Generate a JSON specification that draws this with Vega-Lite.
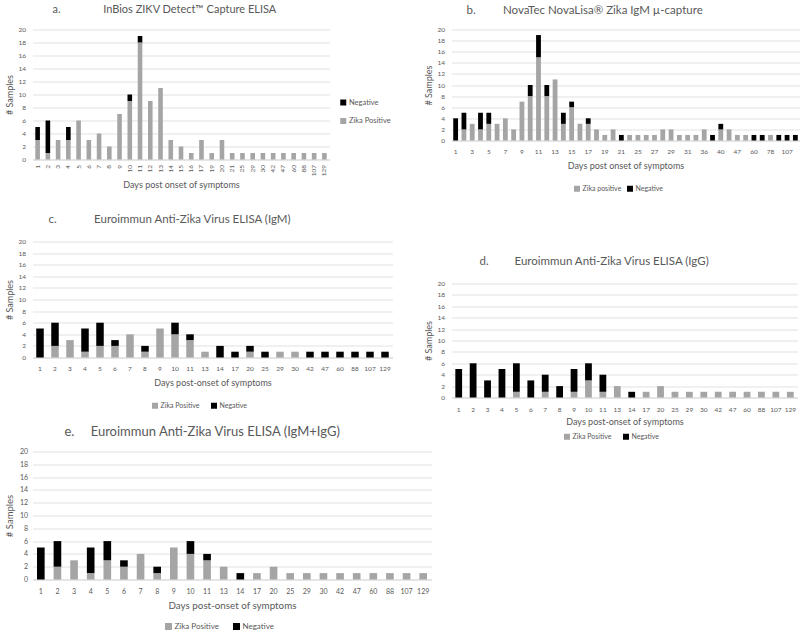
{
  "$schema": "https://vega.github.io/schema/vega-lite/v6.json",
  "padding": {"left": 3.5, "top": 3.5, "right": 0, "bottom": 0},
  "background": "white",
  "config": {
    "font": "Lato",
    "view": {"stroke": null},
    "axis": {"labelColor": "#595959", "titleColor": "#595959", "labelFontSize": 6.5, "titleFontSize": 9, "titleFontWeight": "normal", "ticks": false, "tickSize": 0, "gridColor": "#d9d9d9", "gridWidth": 0.8, "domainColor": "#d9d9d9", "labelFont": "Lato", "titleFont": "Lato"},
    "axisX": {"grid": false, "domain": true, "labelAngle": 0, "labelPadding": 8, "titlePadding": 6},
    "axisY": {"domain": false, "labelPadding": 7, "titlePadding": 3},
    "legend": {"title": null, "orient": "none", "padding": 0, "offset": 0, "labelColor": "#595959", "labelFontSize": 7, "labelFont": "Lato", "symbolType": "square", "symbolSize": 36, "symbolStrokeWidth": 0, "labelOffset": 2, "columnPadding": 11, "direction": "horizontal"},
    "title": {"font": "Lato", "fontSize": 11.5, "fontWeight": "normal", "color": "#595959", "anchor": "start", "frame": "group", "baseline": "middle"}
  },
  "datasets": {
    "a": [
      {"day": 1, "status": "Zika Positive", "n": 3}, {"day": 1, "status": "Negative", "n": 2},
      {"day": 2, "status": "Zika Positive", "n": 1}, {"day": 2, "status": "Negative", "n": 5},
      {"day": 3, "status": "Zika Positive", "n": 3},
      {"day": 4, "status": "Zika Positive", "n": 3}, {"day": 4, "status": "Negative", "n": 2},
      {"day": 5, "status": "Zika Positive", "n": 6},
      {"day": 6, "status": "Zika Positive", "n": 3},
      {"day": 7, "status": "Zika Positive", "n": 4},
      {"day": 8, "status": "Zika Positive", "n": 2},
      {"day": 9, "status": "Zika Positive", "n": 7},
      {"day": 10, "status": "Zika Positive", "n": 9}, {"day": 10, "status": "Negative", "n": 1},
      {"day": 11, "status": "Zika Positive", "n": 18}, {"day": 11, "status": "Negative", "n": 1},
      {"day": 12, "status": "Zika Positive", "n": 9},
      {"day": 13, "status": "Zika Positive", "n": 11},
      {"day": 14, "status": "Zika Positive", "n": 3},
      {"day": 15, "status": "Zika Positive", "n": 2},
      {"day": 16, "status": "Zika Positive", "n": 1},
      {"day": 17, "status": "Zika Positive", "n": 3},
      {"day": 19, "status": "Zika Positive", "n": 1},
      {"day": 20, "status": "Zika Positive", "n": 3},
      {"day": 21, "status": "Zika Positive", "n": 1},
      {"day": 25, "status": "Zika Positive", "n": 1},
      {"day": 29, "status": "Zika Positive", "n": 1},
      {"day": 30, "status": "Zika Positive", "n": 1},
      {"day": 42, "status": "Zika Positive", "n": 1},
      {"day": 47, "status": "Zika Positive", "n": 1},
      {"day": 60, "status": "Zika Positive", "n": 1},
      {"day": 88, "status": "Zika Positive", "n": 1},
      {"day": 107, "status": "Zika Positive", "n": 1},
      {"day": 129, "status": "Zika Positive", "n": 1}
    ],
    "b": [
      {"day": 1, "status": "Negative", "n": 4},
      {"day": 2, "status": "Zika positive", "n": 2}, {"day": 2, "status": "Negative", "n": 3},
      {"day": 3, "status": "Zika positive", "n": 3},
      {"day": 4, "status": "Zika positive", "n": 2}, {"day": 4, "status": "Negative", "n": 3},
      {"day": 5, "status": "Zika positive", "n": 3}, {"day": 5, "status": "Negative", "n": 2},
      {"day": 6, "status": "Zika positive", "n": 3},
      {"day": 7, "status": "Zika positive", "n": 4},
      {"day": 8, "status": "Zika positive", "n": 2},
      {"day": 9, "status": "Zika positive", "n": 7},
      {"day": 10, "status": "Zika positive", "n": 8}, {"day": 10, "status": "Negative", "n": 2},
      {"day": 11, "status": "Zika positive", "n": 15}, {"day": 11, "status": "Negative", "n": 4},
      {"day": 12, "status": "Zika positive", "n": 8}, {"day": 12, "status": "Negative", "n": 2},
      {"day": 13, "status": "Zika positive", "n": 11},
      {"day": 14, "status": "Zika positive", "n": 3}, {"day": 14, "status": "Negative", "n": 2},
      {"day": 15, "status": "Zika positive", "n": 6}, {"day": 15, "status": "Negative", "n": 1},
      {"day": 16, "status": "Zika positive", "n": 3},
      {"day": 17, "status": "Zika positive", "n": 3}, {"day": 17, "status": "Negative", "n": 1},
      {"day": 18, "status": "Zika positive", "n": 2},
      {"day": 19, "status": "Zika positive", "n": 1},
      {"day": 20, "status": "Zika positive", "n": 2},
      {"day": 21, "status": "Negative", "n": 1},
      {"day": 22, "status": "Zika positive", "n": 1},
      {"day": 25, "status": "Zika positive", "n": 1},
      {"day": 26, "status": "Zika positive", "n": 1},
      {"day": 27, "status": "Zika positive", "n": 1},
      {"day": 28, "status": "Zika positive", "n": 2},
      {"day": 29, "status": "Zika positive", "n": 2},
      {"day": 30, "status": "Zika positive", "n": 1},
      {"day": 31, "status": "Zika positive", "n": 1},
      {"day": 33, "status": "Zika positive", "n": 1},
      {"day": 36, "status": "Zika positive", "n": 2},
      {"day": 38, "status": "Negative", "n": 1},
      {"day": 40, "status": "Zika positive", "n": 2}, {"day": 40, "status": "Negative", "n": 1},
      {"day": 42, "status": "Zika positive", "n": 2},
      {"day": 47, "status": "Zika positive", "n": 1},
      {"day": 48, "status": "Zika positive", "n": 1},
      {"day": 60, "status": "Negative", "n": 1},
      {"day": 67, "status": "Negative", "n": 1},
      {"day": 78, "status": "Zika positive", "n": 1},
      {"day": 88, "status": "Negative", "n": 1},
      {"day": 107, "status": "Negative", "n": 1},
      {"day": 129, "status": "Negative", "n": 1}
    ],
    "c": [
      {"day": 1, "status": "Negative", "n": 5},
      {"day": 2, "status": "Zika Positive", "n": 2}, {"day": 2, "status": "Negative", "n": 4},
      {"day": 3, "status": "Zika Positive", "n": 3},
      {"day": 4, "status": "Zika Positive", "n": 1}, {"day": 4, "status": "Negative", "n": 4},
      {"day": 5, "status": "Zika Positive", "n": 2}, {"day": 5, "status": "Negative", "n": 4},
      {"day": 6, "status": "Zika Positive", "n": 2}, {"day": 6, "status": "Negative", "n": 1},
      {"day": 7, "status": "Zika Positive", "n": 4},
      {"day": 8, "status": "Zika Positive", "n": 1}, {"day": 8, "status": "Negative", "n": 1},
      {"day": 9, "status": "Zika Positive", "n": 5},
      {"day": 10, "status": "Zika Positive", "n": 4}, {"day": 10, "status": "Negative", "n": 2},
      {"day": 11, "status": "Zika Positive", "n": 3}, {"day": 11, "status": "Negative", "n": 1},
      {"day": 13, "status": "Zika Positive", "n": 1},
      {"day": 14, "status": "Negative", "n": 2},
      {"day": 17, "status": "Negative", "n": 1},
      {"day": 20, "status": "Zika Positive", "n": 1}, {"day": 20, "status": "Negative", "n": 1},
      {"day": 25, "status": "Negative", "n": 1},
      {"day": 29, "status": "Zika Positive", "n": 1},
      {"day": 30, "status": "Zika Positive", "n": 1},
      {"day": 42, "status": "Negative", "n": 1},
      {"day": 47, "status": "Negative", "n": 1},
      {"day": 60, "status": "Negative", "n": 1},
      {"day": 88, "status": "Negative", "n": 1},
      {"day": 107, "status": "Negative", "n": 1},
      {"day": 129, "status": "Negative", "n": 1}
    ],
    "d": [
      {"day": 1, "status": "Negative", "n": 5},
      {"day": 2, "status": "Negative", "n": 6},
      {"day": 3, "status": "Negative", "n": 3},
      {"day": 4, "status": "Negative", "n": 5},
      {"day": 5, "status": "Zika Positive", "n": 1}, {"day": 5, "status": "Negative", "n": 5},
      {"day": 6, "status": "Negative", "n": 3},
      {"day": 7, "status": "Zika Positive", "n": 1}, {"day": 7, "status": "Negative", "n": 3},
      {"day": 8, "status": "Negative", "n": 2},
      {"day": 9, "status": "Zika Positive", "n": 1}, {"day": 9, "status": "Negative", "n": 4},
      {"day": 10, "status": "Zika Positive", "n": 3}, {"day": 10, "status": "Negative", "n": 3},
      {"day": 11, "status": "Zika Positive", "n": 1}, {"day": 11, "status": "Negative", "n": 3},
      {"day": 13, "status": "Zika Positive", "n": 2},
      {"day": 14, "status": "Negative", "n": 1},
      {"day": 17, "status": "Zika Positive", "n": 1},
      {"day": 20, "status": "Zika Positive", "n": 2},
      {"day": 25, "status": "Zika Positive", "n": 1},
      {"day": 29, "status": "Zika Positive", "n": 1},
      {"day": 30, "status": "Zika Positive", "n": 1},
      {"day": 42, "status": "Zika Positive", "n": 1},
      {"day": 47, "status": "Zika Positive", "n": 1},
      {"day": 60, "status": "Zika Positive", "n": 1},
      {"day": 88, "status": "Zika Positive", "n": 1},
      {"day": 107, "status": "Zika Positive", "n": 1},
      {"day": 129, "status": "Zika Positive", "n": 1}
    ],
    "e": [
      {"day": 1, "status": "Negative", "n": 5},
      {"day": 2, "status": "Zika Positive", "n": 2}, {"day": 2, "status": "Negative", "n": 4},
      {"day": 3, "status": "Zika Positive", "n": 3},
      {"day": 4, "status": "Zika Positive", "n": 1}, {"day": 4, "status": "Negative", "n": 4},
      {"day": 5, "status": "Zika Positive", "n": 3}, {"day": 5, "status": "Negative", "n": 3},
      {"day": 6, "status": "Zika Positive", "n": 2}, {"day": 6, "status": "Negative", "n": 1},
      {"day": 7, "status": "Zika Positive", "n": 4},
      {"day": 8, "status": "Zika Positive", "n": 1}, {"day": 8, "status": "Negative", "n": 1},
      {"day": 9, "status": "Zika Positive", "n": 5},
      {"day": 10, "status": "Zika Positive", "n": 4}, {"day": 10, "status": "Negative", "n": 2},
      {"day": 11, "status": "Zika Positive", "n": 3}, {"day": 11, "status": "Negative", "n": 1},
      {"day": 13, "status": "Zika Positive", "n": 2},
      {"day": 14, "status": "Negative", "n": 1},
      {"day": 17, "status": "Zika Positive", "n": 1},
      {"day": 20, "status": "Zika Positive", "n": 2},
      {"day": 25, "status": "Zika Positive", "n": 1},
      {"day": 29, "status": "Zika Positive", "n": 1},
      {"day": 30, "status": "Zika Positive", "n": 1},
      {"day": 42, "status": "Zika Positive", "n": 1},
      {"day": 47, "status": "Zika Positive", "n": 1},
      {"day": 60, "status": "Zika Positive", "n": 1},
      {"day": 88, "status": "Zika Positive", "n": 1},
      {"day": 107, "status": "Zika Positive", "n": 1},
      {"day": 129, "status": "Zika Positive", "n": 1}
    ]
  },
  "resolve": {"scale": {"color": "independent", "x": "independent", "y": "independent"}, "legend": {"color": "independent"}},
  "spacing": -7,
  "hconcat": [
    {
      "resolve": {"scale": {"color": "independent", "x": "independent", "y": "independent"}, "legend": {"color": "independent"}},
      "spacing": 16,
      "vconcat": [
        {
          "bounds": "flush",
          "spacing": 82,
          "resolve": {"scale": {"color": "independent", "x": "independent", "y": "independent"}, "legend": {"color": "independent"}},
          "vconcat": [
            {
              "width": 297, "height": 130,
              "data": {"name": "a"},
              "title": {"text": "a.\u2003\u2003\u2003\u2003\u2003\u2009InBios ZIKV Detect™ Capture ELISA", "dx": 20, "offset": 11.5, "fontSize": 11},
              "mark": {"type": "bar"},
              "encoding": {
                "x": {"field": "day", "type": "ordinal", "scale": {"paddingInner": 0.55, "paddingOuter": 0.275}, "axis": {"title": "Days post onset of symptoms", "labelAngle": -90, "labelPadding": 5, "titlePadding": 5}},
                "y": {"field": "n", "type": "quantitative", "stack": "zero", "scale": {"domain": [0, 20], "nice": false}, "axis": {"title": "# Samples", "values": [0, 2, 4, 6, 8, 10, 12, 14, 16, 18, 20]}},
                "color": {"field": "status", "type": "nominal", "scale": {"domain": ["Negative", "Zika Positive"], "range": ["#000000", "#a5a5a5"]}, "legend": {"direction": "vertical", "legendX": 307, "legendY": 69.25, "rowPadding": 9.5, "labelFontSize": 7.5}},
                "order": {"field": "status", "sort": "descending"}
              }
            },
            {
              "width": 360, "height": 116,
              "data": {"name": "c"},
              "title": {"text": "c.\u2003\u2003\u2003\u2003\u2009\u2009Euroimmun Anti-Zika Virus ELISA (IgM)", "dx": 16, "offset": 12.75},
              "mark": {"type": "bar"},
              "encoding": {
                "x": {"field": "day", "type": "ordinal", "scale": {"paddingInner": 0.5, "paddingOuter": 0.25}, "axis": {"title": "Days post-onset of symptoms", "labelPadding": 8, "titlePadding": 6}},
                "y": {"field": "n", "type": "quantitative", "stack": "zero", "scale": {"domain": [0, 20], "nice": false}, "axis": {"title": "# Samples", "values": [0, 2, 4, 6, 8, 10, 12, 14, 16, 18, 20]}},
                "color": {"field": "status", "type": "nominal", "scale": {"domain": ["Zika Positive", "Negative"], "range": ["#a5a5a5", "#000000"]}, "legend": {"legendX": 119, "legendY": 160.5}},
                "order": {"field": "status", "sort": "descending"}
              }
            }
          ]
        },
        {
          "width": 399, "height": 128,
          "data": {"name": "e"},
          "title": {"text": "e.\u2003\u2002Euroimmun Anti-Zika Virus ELISA (IgM+IgG)", "dx": 32, "offset": 9, "fontSize": 13},
          "mark": {"type": "bar"},
          "encoding": {
            "x": {"field": "day", "type": "ordinal", "scale": {"paddingInner": 0.54, "paddingOuter": 0.27}, "axis": {"title": "Days post-onset of symptoms", "labelPadding": 7.5, "titlePadding": 6.5, "labelFontSize": 7, "titleFontSize": 9.8}},
            "y": {"field": "n", "type": "quantitative", "stack": "zero", "scale": {"domain": [0, 20], "nice": false}, "axis": {"title": "# Samples", "labelFontSize": 7, "titleFontSize": 9.5, "labelPadding": 5, "titlePadding": 5, "values": [0, 2, 4, 6, 8, 10, 12, 14, 16, 18, 20]}},
            "color": {"field": "status", "type": "nominal", "scale": {"domain": ["Zika Positive", "Negative"], "range": ["#a5a5a5", "#000000"]}, "legend": {"legendX": 132, "legendY": 171, "labelFontSize": 8, "symbolSize": 49, "columnPadding": 13}},
            "order": {"field": "status", "sort": "descending"}
          }
        }
      ]
    },
    {
      "bounds": "flush",
      "spacing": 143,
      "resolve": {"scale": {"color": "independent", "x": "independent", "y": "independent"}, "legend": {"color": "independent"}},
      "vconcat": [
        {
          "width": 348, "height": 111,
          "data": {"name": "b"},
          "title": {"text": "b.\u2003\u2003\u2003\u2009NovaTec NovaLisa® Zika IgM µ-capture", "dx": 15, "offset": 10},
          "mark": {"type": "bar"},
          "encoding": {
            "x": {"field": "day", "type": "ordinal", "scale": {"paddingInner": 0.42, "paddingOuter": 0.21}, "axis": {"title": "Days post onset of symptoms", "labelPadding": 8, "titlePadding": 6, "values": [1, 3, 5, 7, 9, 11, 13, 15, 17, 19, 21, 25, 27, 29, 31, 36, 40, 47, 60, 78, 107]}},
            "y": {"field": "n", "type": "quantitative", "stack": "zero", "scale": {"domain": [0, 20], "nice": false}, "axis": {"title": "# Samples", "values": [0, 2, 4, 6, 8, 10, 12, 14, 16, 18, 20]}},
            "color": {"field": "status", "type": "nominal", "scale": {"domain": ["Zika positive", "Negative"], "range": ["#a5a5a5", "#000000"]}, "legend": {"legendX": 122, "legendY": 155.5, "columnPadding": 5}},
            "order": {"field": "status", "sort": "descending"}
          }
        },
        {
          "width": 346, "height": 114,
          "data": {"name": "d"},
          "title": {"text": "d.\u2003\u2003\u2003Euroimmun Anti-Zika Virus ELISA (IgG)", "dx": 28, "offset": 12.75},
          "mark": {"type": "bar"},
          "encoding": {
            "x": {"field": "day", "type": "ordinal", "scale": {"paddingInner": 0.53, "paddingOuter": 0.265}, "axis": {"title": "Days post-onset of symptoms", "labelPadding": 9, "titlePadding": 4}},
            "y": {"field": "n", "type": "quantitative", "stack": "zero", "scale": {"domain": [0, 20], "nice": false}, "axis": {"title": "# Samples", "values": [0, 2, 4, 6, 8, 10, 12, 14, 16, 18, 20]}},
            "color": {"field": "status", "type": "nominal", "scale": {"domain": ["Zika Positive", "Negative"], "range": ["#a5a5a5", "#000000"]}, "legend": {"legendX": 112, "legendY": 149.5}},
            "order": {"field": "status", "sort": "descending"}
          }
        }
      ]
    }
  ]
}
